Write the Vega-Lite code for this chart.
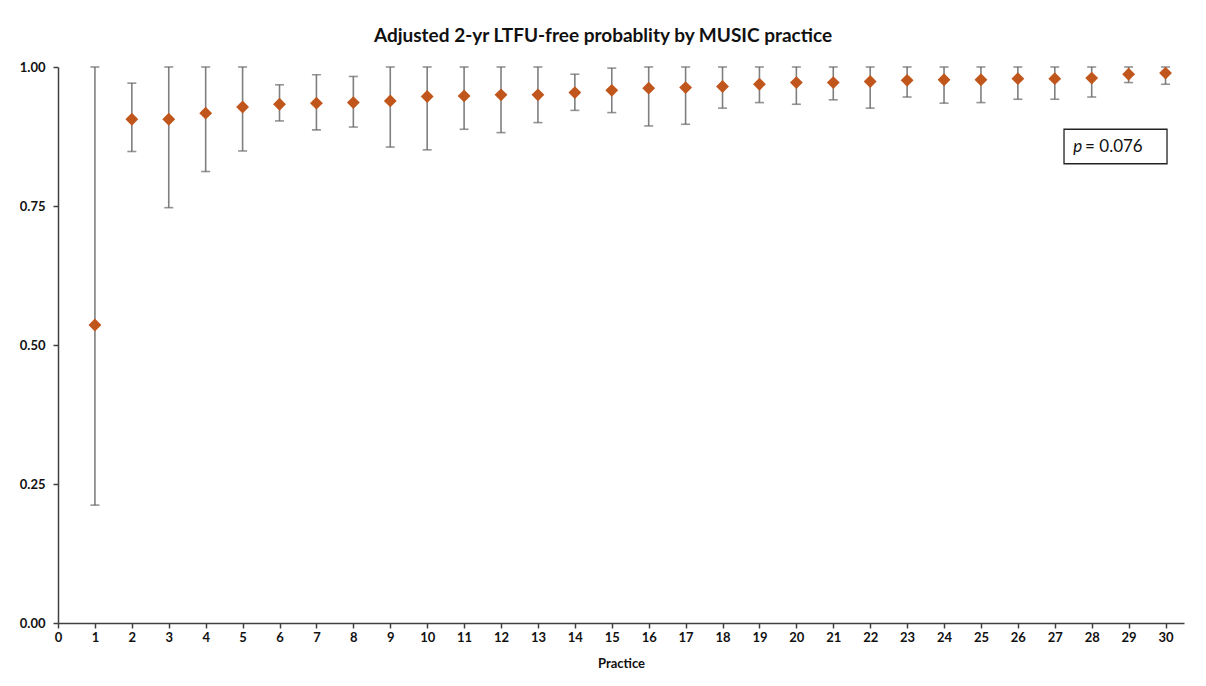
{
  "$schema": "https://vega.github.io/schema/vega-lite/v6.json",
  "width": 1126,
  "height": 556,
  "autosize": "none",
  "padding": {"left": 58, "top": 67, "right": 22, "bottom": 63},
  "background": "white",
  "config": {"view": {"stroke": null}, "font": "Lato"},
  "title": {
    "text": "Adjusted 2-yr LTFU-free probablity by MUSIC practice",
    "font": "Lato", "fontSize": 19, "fontWeight": "bold", "color": "#111111",
    "anchor": "middle", "frame": "group", "offset": 15, "dx": -18
  },
  "datasets": {
    "pts": [
      {"practice": 1, "prob": 0.536, "lo": 0.212, "hi": 1.0},
      {"practice": 2, "prob": 0.906, "lo": 0.848, "hi": 0.971},
      {"practice": 3, "prob": 0.906, "lo": 0.747, "hi": 1.0},
      {"practice": 4, "prob": 0.917, "lo": 0.812, "hi": 1.0},
      {"practice": 5, "prob": 0.928, "lo": 0.849, "hi": 1.0},
      {"practice": 6, "prob": 0.933, "lo": 0.903, "hi": 0.968},
      {"practice": 7, "prob": 0.935, "lo": 0.887, "hi": 0.986},
      {"practice": 8, "prob": 0.936, "lo": 0.892, "hi": 0.983},
      {"practice": 9, "prob": 0.939, "lo": 0.856, "hi": 1.0},
      {"practice": 10, "prob": 0.947, "lo": 0.851, "hi": 1.0},
      {"practice": 11, "prob": 0.948, "lo": 0.888, "hi": 1.0},
      {"practice": 12, "prob": 0.950, "lo": 0.882, "hi": 1.0},
      {"practice": 13, "prob": 0.950, "lo": 0.900, "hi": 1.0},
      {"practice": 14, "prob": 0.954, "lo": 0.922, "hi": 0.987},
      {"practice": 15, "prob": 0.958, "lo": 0.918, "hi": 0.998},
      {"practice": 16, "prob": 0.962, "lo": 0.894, "hi": 1.0},
      {"practice": 17, "prob": 0.963, "lo": 0.897, "hi": 1.0},
      {"practice": 18, "prob": 0.965, "lo": 0.926, "hi": 1.0},
      {"practice": 19, "prob": 0.969, "lo": 0.936, "hi": 1.0},
      {"practice": 20, "prob": 0.972, "lo": 0.933, "hi": 1.0},
      {"practice": 21, "prob": 0.972, "lo": 0.941, "hi": 1.0},
      {"practice": 22, "prob": 0.974, "lo": 0.926, "hi": 1.0},
      {"practice": 23, "prob": 0.976, "lo": 0.946, "hi": 1.0},
      {"practice": 24, "prob": 0.977, "lo": 0.935, "hi": 1.0},
      {"practice": 25, "prob": 0.977, "lo": 0.936, "hi": 1.0},
      {"practice": 26, "prob": 0.979, "lo": 0.942, "hi": 1.0},
      {"practice": 27, "prob": 0.979, "lo": 0.942, "hi": 1.0},
      {"practice": 28, "prob": 0.980, "lo": 0.946, "hi": 1.0},
      {"practice": 29, "prob": 0.987, "lo": 0.972, "hi": 1.0},
      {"practice": 30, "prob": 0.989, "lo": 0.969, "hi": 1.0}
    ],
    "box": [{"practice": 27.25, "x2": 30.04, "y1": 0.826, "y2": 0.888}],
    "ptxt": [{"practice": 27.5, "y": 0.857, "label": "p"}],
    "vtxt": [{"practice": 27.82, "y": 0.857, "label": "= 0.076"}]
  },
  "encoding": {
    "x": {"field": "practice", "type": "quantitative", "scale": {"domain": [0, 30.5], "nice": false},
      "axis": {"values": [0,1,2,3,4,5,6,7,8,9,10,11,12,13,14,15,16,17,18,19,20,21,22,23,24,25,26,27,28,29,30],
        "tickCount": 31, "labelOverlap": false, "labelBound": false, "labelFlush": false,
        "title": "Practice", "grid": false, "domainColor": "#404040", "domainWidth": 1.5,
        "tickColor": "#404040", "tickWidth": 1.5, "tickSize": 5, "labelPadding": 3,
        "labelFont": "Lato", "labelFontSize": 13, "labelFontWeight": "bold", "labelColor": "#111111",
        "titleFont": "Lato", "titleFontSize": 13, "titleFontWeight": "bold", "titleColor": "#111111", "titlePadding": 13}}
  },
  "layer": [
    {
      "data": {"name": "pts"},
      "mark": {"type": "rule", "color": "#7f7f7f", "strokeWidth": 1.6},
      "encoding": {
        "y": {"field": "lo", "type": "quantitative", "scale": {"domain": [0, 1], "nice": false},
          "axis": {"values": [0, 0.25, 0.5, 0.75, 1], "format": ".2f", "title": null, "grid": false,
            "domainColor": "#404040", "domainWidth": 1.5, "tickColor": "#404040", "tickWidth": 1.5, "tickSize": 5,
            "labelPadding": 8, "labelFont": "Lato", "labelFontSize": 13, "labelFontWeight": "bold", "labelColor": "#111111"}},
        "y2": {"field": "hi"}
      }
    },
    {
      "data": {"name": "pts"},
      "mark": {"type": "tick", "orient": "horizontal", "color": "#666666", "size": 9, "thickness": 1.6},
      "encoding": {
        "y": {"field": "lo", "type": "quantitative"}
      }
    },
    {
      "data": {"name": "pts"},
      "mark": {"type": "tick", "orient": "horizontal", "color": "#666666", "size": 9, "thickness": 1.6},
      "encoding": {
        "y": {"field": "hi", "type": "quantitative"}
      }
    },
    {
      "data": {"name": "pts"},
      "mark": {"type": "point", "shape": "diamond", "filled": true, "color": "#c0561c", "opacity": 1, "size": 165},
      "encoding": {
        "y": {"field": "prob", "type": "quantitative"}
      }
    },
    {
      "data": {"name": "box"},
      "mark": {"type": "rect", "fill": "white", "stroke": "#222222", "strokeWidth": 1.3},
      "encoding": {
        "x2": {"field": "x2"},
        "y": {"field": "y1", "type": "quantitative"},
        "y2": {"field": "y2"}
      }
    },
    {
      "data": {"name": "ptxt"},
      "mark": {"type": "text", "align": "left", "baseline": "middle", "font": "Lato", "fontSize": 17, "fontStyle": "italic", "color": "#111111"},
      "encoding": {
        "y": {"field": "y", "type": "quantitative"},
        "text": {"field": "label"}
      }
    },
    {
      "data": {"name": "vtxt"},
      "mark": {"type": "text", "align": "left", "baseline": "middle", "font": "Lato", "fontSize": 17, "color": "#111111"},
      "encoding": {
        "y": {"field": "y", "type": "quantitative"},
        "text": {"field": "label"}
      }
    }
  ]
}
